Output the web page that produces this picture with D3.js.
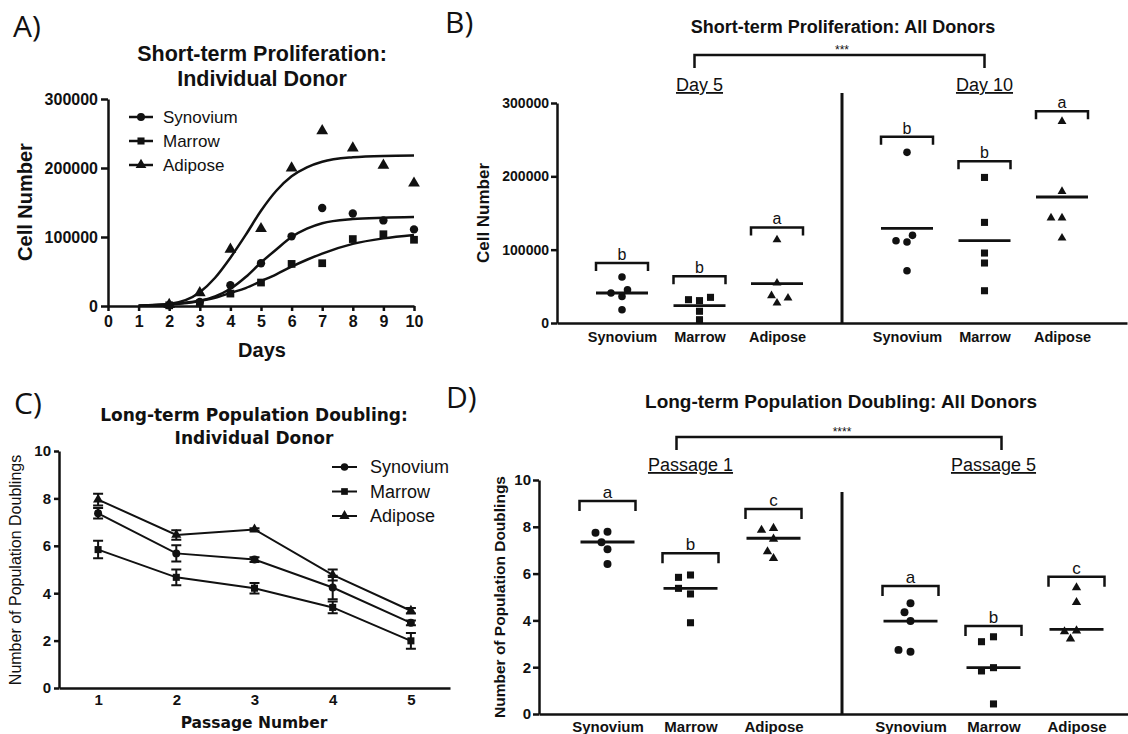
<!DOCTYPE html>
<html lang="en">
<head>
<meta charset="utf-8" />
<title>Proliferation and Population Doubling</title>
<script src="https://cdn.jsdelivr.net/npm/d3@7"></script>
<style>
  body { margin: 0; background: #fff; }
  svg text { font-family: "Liberation Sans", Arial, sans-serif; fill: #111; }
</style>
</head>
<body>
<svg id="fig" width="1128" height="734"></svg>
<script>
// ---------- data ----------
const tissues = ['Synovium', 'Marrow', 'Adipose'];

// A) short-term proliferation, one donor
const daysA = [2, 3, 4, 5, 6, 7, 8, 9, 10];
const synoviumA = [1000, 6000, 30000, 62000, 101000, 142000, 134000, 124000, 111000];
const marrowA = [1000, 4000, 18000, 34000, 61000, 62000, 97000, 104000, 96000];
const adiposeA = [2000, 19000, 82000, 112000, 200000, 254000, 229000, 204000, 178000];
// fitted growth curves
const fitDaysA = [1, 2, 3, 3.5, 4, 4.5, 5, 5.5, 6, 6.5, 7, 8, 9, 10];
const synoviumFitA = [500, 2000, 7500, 14000, 25000, 42000, 63000, 82000, 100000, 112000, 120000, 126000, 128000, 129000];
const marrowFitA = [500, 2500, 7500, 12000, 19000, 26000, 36000, 46000, 57000, 67000, 76000, 90000, 98000, 103000];
const adiposeFitA = [500, 3000, 20000, 41000, 70000, 103000, 138000, 167000, 188000, 201000, 209000, 215500, 217500, 218000];

// B) short-term proliferation, all donors
const groupsB = ['Day 5', 'Day 10'];
const day5Synovium = [62700, 36300, 40900, 45400, 18100];
const day5Marrow = [30500, 31800, 35000, 16000, 4500];
const day5Adipose = [113500, 54500, 27200, 37200, 34000];
const day10Synovium = [232700, 110400, 112200, 119500, 71300];
const day10Marrow = [198500, 137200, 95400, 81800, 44000];
const day10Adipose = [274900, 179500, 143200, 143200, 115900];
const centerB = [[40900, 23600, 53600], [129000, 112200, 171800]];
const bracketB = [[81800, 63600, 130300], [254000, 220400, 288600]];
const lettersB = [['b', 'b', 'a'], ['b', 'b', 'a']];

// C) long-term population doubling, one donor
const passagesC = [1, 2, 3, 4, 5];
const synoviumC = [7.37, 5.68, 5.42, 4.24, 2.75];
const synoviumSemC = [0.22, 0.34, 0.1, 0.5, 0.1];
const marrowC = [5.84, 4.67, 4.21, 3.4, 1.99];
const marrowSemC = [0.37, 0.33, 0.22, 0.25, 0.33];
const adiposeC = [7.95, 6.46, 6.69, 4.77, 3.26];
const adiposeSemC = [0.25, 0.2, 0.05, 0.23, 0.12];

// D) long-term population doubling, all donors
const groupsD = ['Passage 1', 'Passage 5'];
const p1Synovium = [6.41, 7.04, 7.34, 7.79, 7.75];
const p1Marrow = [3.9, 5.13, 5.37, 5.94, 5.84];
const p1Adipose = [6.65, 6.94, 7.48, 7.94, 7.86];
const p5Synovium = [3.97, 4.73, 4.35, 2.66, 2.74];
const p5Marrow = [1.98, 1.84, 3.3, 3.09, 0.43];
const p5Adipose = [3.56, 3.52, 3.21, 4.77, 5.4];
const centerD = [[7.35, 5.37, 7.51], [3.97, 1.98, 3.62]];
const bracketD = [[9.1, 6.87, 8.76], [5.47, 3.76, 5.87]];
const lettersD = [['a', 'b', 'c'], ['a', 'b', 'c']];

// ---------- helpers ----------
const svg = d3.select('#fig');
const ink = '#111';
const symbolOf = { Synovium: d3.symbolCircle, Marrow: d3.symbolSquare, Adipose: d3.symbolTriangle };

function styleAxis(ax, size, weight, family) {
  ax.attr('font-family', null).attr('font-size', null);
  ax.selectAll('.domain').attr('stroke', ink).attr('stroke-width', 2.5);
  ax.selectAll('.tick line').attr('stroke', ink).attr('stroke-width', 2.5);
  ax.selectAll('.tick text')
    .style('font-size', size + 'px')
    .style('font-weight', weight || 'bold')
    .style('font-family', family || null)
    .attr('fill', ink);
}

function label(g, x, y, str, size, opts) {
  opts = opts || {};
  const t = g.append('text')
    .attr('x', x).attr('y', y)
    .attr('text-anchor', opts.anchor || 'middle')
    .style('font-size', size + 'px')
    .style('font-weight', opts.weight || 'normal')
    .text(str);
  if (opts.family) t.style('font-family', opts.family);
  if (opts.rotate) t.attr('transform', `rotate(-90,${x},${y})`);
  if (opts.underline) t.style('text-decoration', 'underline');
  return t;
}

function marker(g, name, x, y, size) {
  g.append('path')
    .attr('d', d3.symbol().type(symbolOf[name]).size(size)())
    .attr('transform', `translate(${x},${y})`)
    .attr('fill', ink);
}

// spread points of equal value sideways so they do not cover each other
function swarm(values, y, step, minDist) {
  const placed = [];
  const cands = [0, -step / 2, step / 2, -step, step, -1.5 * step, 1.5 * step];
  return values.map(v => {
    const py = y(v);
    let off = 0;
    for (const c of cands) {
      if (placed.every(p => Math.hypot(p.dx - c, p.py - py) >= minDist)) { off = c; break; }
    }
    placed.push({ dx: off, py: py });
    return { v: v, dx: off };
  });
}

function bracket(g, cx, half, y, drop, width) {
  g.append('path')
    .attr('d', `M${cx - half},${y + drop}V${y}H${cx + half}V${y + drop}`)
    .attr('fill', 'none').attr('stroke', ink).attr('stroke-width', width);
}

// ---------- panel letters ----------
[['A)', 13, 37], ['B)', 445, 33], ['C)', 14, 414], ['D)', 446, 408]].forEach(d => {
  label(svg, d[1], d[2], d[0], 30, { anchor: 'start', family: '"Open Sans", sans-serif' });
});

// ---------- A ----------
(function () {
  const g = svg.append('g');
  const x = d3.scaleLinear().domain([0, 10]).range([108, 414]);
  const y = d3.scaleLinear().domain([0, 300000]).range([306, 99]);

  label(g, 262, 61, 'Short-term Proliferation:', 21.5, { weight: 'bold' });
  label(g, 262, 86, 'Individual Donor', 21.5, { weight: 'bold' });

  const series = [
    { name: 'Synovium', pts: synoviumA, fit: synoviumFitA },
    { name: 'Marrow', pts: marrowA, fit: marrowFitA },
    { name: 'Adipose', pts: adiposeA, fit: adiposeFitA }
  ];
  const fitLine = d3.line()
    .x((d, i) => x(fitDaysA[i]))
    .y(d => y(d))
    .curve(d3.curveMonotoneX);

  series.forEach(s => {
    g.append('path').datum(s.fit).attr('d', fitLine)
      .attr('fill', 'none').attr('stroke', ink).attr('stroke-width', 2.5);
  });

  g.append('g').attr('transform', 'translate(0,306)')
    .call(d3.axisBottom(x).tickValues(d3.range(0, 11)).tickSize(5).tickSizeOuter(0).tickPadding(5))
    .call(ax => styleAxis(ax, 16));
  g.append('g').attr('transform', 'translate(108,0)')
    .call(d3.axisLeft(y).tickValues([0, 100000, 200000, 300000]).tickFormat(d3.format('d')).tickSize(7).tickSizeOuter(0).tickPadding(3))
    .call(ax => styleAxis(ax, 16));

  series.forEach(s => {
    s.pts.forEach((v, i) => marker(g, s.name, x(daysA[i]), y(v), s.name === 'Synovium' ? 55 : 60));
  });

  label(g, 32, 202, 'Cell Number', 20, { weight: 'bold', rotate: true });
  label(g, 262, 357, 'Days', 20, { weight: 'bold' });

  series.forEach((s, i) => {
    const ly = 117 + i * 24;
    g.append('line').attr('x1', 129).attr('x2', 153).attr('y1', ly).attr('y2', ly)
      .attr('stroke', ink).attr('stroke-width', 2.5);
    marker(g, s.name, 141, ly, 50);
    label(g, 163, ly + 6, s.name, 17, { anchor: 'start' });
  });
})();

// ---------- B and D: dot plots ----------
function dotPanel(p) {
  const g = svg.append('g');
  const y = p.y;
  const base = y.range()[0];
  const band = d3.scaleBand().domain(p.groups).range(p.xRange);
  const mid = grp => band(grp) + band.bandwidth() / 2;

  label(g, p.titleX, p.titleY, p.title, p.titleSize, { weight: 'bold' });

  g.append('g').attr('transform', `translate(0,${base})`)
    .call(d3.axisBottom(band).tickSize(0).tickSizeOuter(0).tickFormat(''))
    .call(ax => styleAxis(ax, 14));
  p.groups.forEach(grp => {
    const sx = d3.scalePoint().domain(tissues).range([mid(grp) - p.spread, mid(grp) + p.spread]);
    g.append('g').attr('transform', `translate(0,${base})`)
      .call(d3.axisBottom(sx).tickSize(0).tickPadding(p.labelPad))
      .call(ax => { ax.select('.domain').remove(); styleAxis(ax, p.catSize); });
  });
  g.append('g').attr('transform', `translate(${p.xRange[0]},0)`)
    .call(d3.axisLeft(y).tickValues(p.yTicks).tickFormat(d3.format('d')).tickSize(6).tickSizeOuter(0).tickPadding(2))
    .call(ax => styleAxis(ax, p.tickSize));

  const split = band(p.groups[1]);
  g.append('line').attr('x1', split).attr('x2', split).attr('y1', p.dividerTop).attr('y2', base)
    .attr('stroke', ink).attr('stroke-width', 3);

  label(g, p.yLabelX, p.yLabelY, p.yLabel, p.yLabelSize, { weight: 'bold', rotate: true });

  const inner = d3.scalePoint().domain(tissues).range([-p.spread, p.spread]);
  p.groups.forEach((grp, gi) => {
    label(g, mid(grp), p.groupLabelY, grp, p.groupLabelSize, { underline: true });
    tissues.forEach((t, ti) => {
      const cx = mid(grp) + inner(t);
      swarm(p.values[gi][ti], y, p.step, p.minDist).forEach(d => {
        marker(g, t, cx + d.dx, y(d.v), p.markerSize[t]);
      });
      const cy = y(p.centers[gi][ti]);
      g.append('line').attr('x1', cx - p.lineHalf).attr('x2', cx + p.lineHalf)
        .attr('y1', cy).attr('y2', cy).attr('stroke', ink).attr('stroke-width', 2.8);
      const by = y(p.brackets[gi][ti]);
      bracket(g, cx, p.bracketHalf, by, p.bracketDrop, 2.5);
      label(g, cx, by - 3, p.letters[gi][ti], p.letterSize);
    });
  });

  const x1 = mid(p.groups[0]) + p.topOffset[0];
  const x2 = mid(p.groups[1]) + p.topOffset[1];
  g.append('path')
    .attr('d', `M${x1},${p.topY + 13}V${p.topY}H${x2}V${p.topY + 13}`)
    .attr('fill', 'none').attr('stroke', ink).attr('stroke-width', 2.5);
  label(g, split, p.topY - 1, p.stars, 12);
}

dotPanel({
  title: 'Short-term Proliferation: All Donors', titleX: 843, titleY: 33, titleSize: 18,
  groups: groupsB,
  values: [[day5Synovium, day5Marrow, day5Adipose], [day10Synovium, day10Marrow, day10Adipose]],
  centers: centerB, brackets: bracketB, letters: lettersB,
  y: d3.scaleLinear().domain([0, 300000]).range([323, 103]),
  yTicks: [0, 100000, 200000, 300000], tickSize: 14, catSize: 14.5,
  xRange: [557, 1127], spread: 77.5, labelPad: 9,
  dividerTop: 93,
  yLabel: 'Cell Number', yLabelX: 489, yLabelY: 213, yLabelSize: 17,
  groupLabelY: 91, groupLabelSize: 18,
  step: 11, minDist: 8,
  markerSize: { Synovium: 45, Marrow: 50, Adipose: 34 },
  lineHalf: 26, bracketHalf: 26, bracketDrop: 8, letterSize: 16,
  topY: 55, topOffset: [-5, 0], stars: '***'
});

dotPanel({
  title: 'Long-term Population Doubling: All Donors', titleX: 841, titleY: 408, titleSize: 19,
  groups: groupsD,
  values: [[p1Synovium, p1Marrow, p1Adipose], [p5Synovium, p5Marrow, p5Adipose]],
  centers: centerD, brackets: bracketD, letters: lettersD,
  y: d3.scaleLinear().domain([0, 10]).range([714, 480]),
  yTicks: [0, 2, 4, 6, 8, 10], tickSize: 15, catSize: 15,
  xRange: [539, 1145], spread: 83, labelPad: 7,
  dividerTop: 492,
  yLabel: 'Number of Population Doublings', yLabelX: 505, yLabelY: 597, yLabelSize: 15.5,
  groupLabelY: 471, groupLabelSize: 18,
  step: 12, minDist: 9,
  markerSize: { Synovium: 50, Marrow: 50, Adipose: 38 },
  lineHalf: 27, bracketHalf: 28, bracketDrop: 10, letterSize: 17,
  topY: 437, topOffset: [-14, 8], stars: '****'
});

// ---------- C ----------
(function () {
  const g = svg.append('g');
  const x = d3.scaleLinear().domain([0.5, 5.5]).range([59, 450]);
  const y = d3.scaleLinear().domain([0, 10]).range([688, 451]);
  const dv = '"DejaVu Sans", Verdana, sans-serif';

  label(g, 254, 421, 'Long-term Population Doubling:', 17, { weight: 'bold', family: dv });
  label(g, 254, 444, 'Individual Donor', 17, { weight: 'bold', family: dv });

  g.append('g').attr('transform', 'translate(0,688)')
    .call(d3.axisBottom(x).tickValues(passagesC).tickFormat(d3.format('d')).tickSize(0).tickSizeOuter(0).tickPadding(6))
    .call(ax => styleAxis(ax, 15));
  g.append('g').attr('transform', 'translate(59,0)')
    .call(d3.axisLeft(y).tickValues([0, 2, 4, 6, 8, 10]).tickSize(5).tickSizeOuter(0).tickPadding(3))
    .call(ax => styleAxis(ax, 15));

  const series = [
    { name: 'Synovium', mean: synoviumC, sem: synoviumSemC },
    { name: 'Marrow', mean: marrowC, sem: marrowSemC },
    { name: 'Adipose', mean: adiposeC, sem: adiposeSemC }
  ];
  const line = d3.line().x((d, i) => x(passagesC[i])).y(d => y(d));
  series.forEach(s => {
    g.append('path').datum(s.mean).attr('d', line)
      .attr('fill', 'none').attr('stroke', ink).attr('stroke-width', 2);
  });
  series.forEach(s => {
    s.mean.forEach((m, i) => {
      const px = x(passagesC[i]);
      const top = y(m + s.sem[i]), bot = y(m - s.sem[i]);
      g.append('path')
        .attr('d', `M${px},${top}V${bot}M${px - 5},${top}H${px + 5}M${px - 5},${bot}H${px + 5}`)
        .attr('fill', 'none').attr('stroke', ink).attr('stroke-width', 2);
      marker(g, s.name, px, y(m), s.name === 'Adipose' ? 45 : 50);
    });
  });

  label(g, 21, 570, 'Number of Population Doublings', 16, { rotate: true });
  label(g, 254, 728, 'Passage Number', 15.5, { weight: 'bold', family: dv });

  series.forEach((s, i) => {
    const ly = 467 + i * 24.5;
    g.append('line').attr('x1', 332).attr('x2', 357).attr('y1', ly).attr('y2', ly)
      .attr('stroke', ink).attr('stroke-width', 2);
    marker(g, s.name, 344.5, ly, 45);
    label(g, 370, ly + 6, s.name, 18, { anchor: 'start' });
  });
})();
</script>
</body>
</html>
